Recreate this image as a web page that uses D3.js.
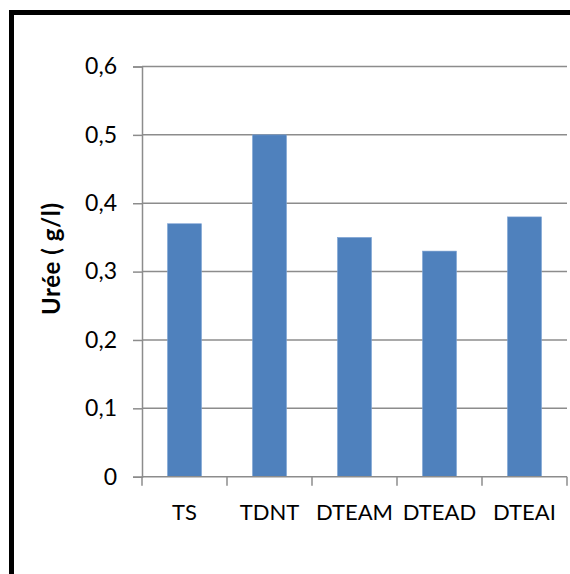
<!DOCTYPE html>
<html>
<head>
<meta charset="utf-8">
<script src="https://cdn.jsdelivr.net/npm/d3@7"></script>
<style>
  html, body { margin: 0; padding: 0; background: #fff; overflow: hidden; }
  svg { display: block; }
  text { font-family: Lato, "Open Sans", sans-serif; fill: #000; }
</style>
</head>
<body>
<svg id="chart" width="570" height="574"></svg>
<script>
// Urea concentration per group
const categories = ["TS", "TDNT", "DTEAM", "DTEAD", "DTEAI"];
const values = [0.37, 0.5, 0.35, 0.33, 0.38];
const yTicks = [0, 0.1, 0.2, 0.3, 0.4, 0.5, 0.6];
const yTitle = "Urée ( g/l)";

const svg = d3.select("#chart");

// outer chart frame (runs past the right and bottom edges)
svg.append("rect")
  .attr("x", 11.5).attr("y", 12.5)
  .attr("width", 600).attr("height", 600)
  .attr("fill", "#fff")
  .attr("stroke", "#000").attr("stroke-width", 5);

const plot = { left: 142, right: 567, top: 66.5, bottom: 476.7 };

const x = d3.scaleBand()
  .domain(categories)
  .range([plot.left, plot.right])
  .paddingInner(0.6).paddingOuter(0.3);

const y = d3.scaleLinear()
  .domain([0, 0.6])
  .range([plot.bottom, plot.top]);

const fmt = d => d3.format(".1~f")(d).replace(".", ",");

// horizontal gridlines
svg.append("g")
  .selectAll("line")
  .data(yTicks.filter(d => d > 0))
  .join("line")
  .attr("x1", plot.left).attr("x2", plot.right)
  .attr("y1", d => y(d)).attr("y2", d => y(d))
  .attr("stroke", "#8c8c8c").attr("stroke-width", 1.5);

// bars
svg.append("g")
  .selectAll("rect")
  .data(values)
  .join("rect")
  .attr("x", (d, i) => x(categories[i]))
  .attr("width", x.bandwidth())
  .attr("y", d => y(d))
  .attr("height", d => plot.bottom - y(d))
  .attr("fill", "#4f81bd")
  .attr("stroke", "#7ea3d4").attr("stroke-width", 0.6);

// y axis
const yAxis = svg.append("g")
  .attr("transform", `translate(${plot.left},0)`)
  .call(d3.axisLeft(y).tickValues(yTicks).tickFormat(fmt).tickSizeOuter(0).tickSize(9).tickPadding(16));
yAxis.select(".domain").attr("stroke", "#8c8c8c").attr("stroke-width", 1.5);
yAxis.selectAll(".tick line").attr("stroke", "#8c8c8c").attr("stroke-width", 1.5);
yAxis.selectAll(".tick text").attr("font-size", 23).attr("font-family", "Lato, sans-serif");

// x axis: ticks on category boundaries
const xAxisG = svg.append("g")
  .attr("transform", `translate(0,${plot.bottom})`);
xAxisG.append("line")
  .attr("x1", plot.left).attr("x2", plot.right)
  .attr("stroke", "#8c8c8c").attr("stroke-width", 1.5);
const step = x.step();
const bounds = categories.map((c, i) => x(c) - (step - x.bandwidth()) / 2).concat([plot.right]);
xAxisG.selectAll("line.tk")
  .data(bounds)
  .join("line").attr("class", "tk")
  .attr("x1", d => d).attr("x2", d => d)
  .attr("y1", 0).attr("y2", 9)
  .attr("stroke", "#8c8c8c").attr("stroke-width", 1.5);
xAxisG.selectAll("text")
  .data(categories)
  .join("text")
  .attr("x", d => x(d) + x.bandwidth() / 2)
  .attr("y", 43.3)
  .attr("text-anchor", "middle")
  .attr("font-size", 22)
  .text(d => d);

// y axis title
svg.append("text")
  .attr("transform", `translate(60,259) rotate(-90)`)
  .attr("text-anchor", "middle")
  .attr("font-size", 24)
  .attr("font-weight", "bold")
  .attr("textLength", 112)
  .attr("lengthAdjust", "spacing")
  .text(yTitle);
</script>
</body>
</html>
